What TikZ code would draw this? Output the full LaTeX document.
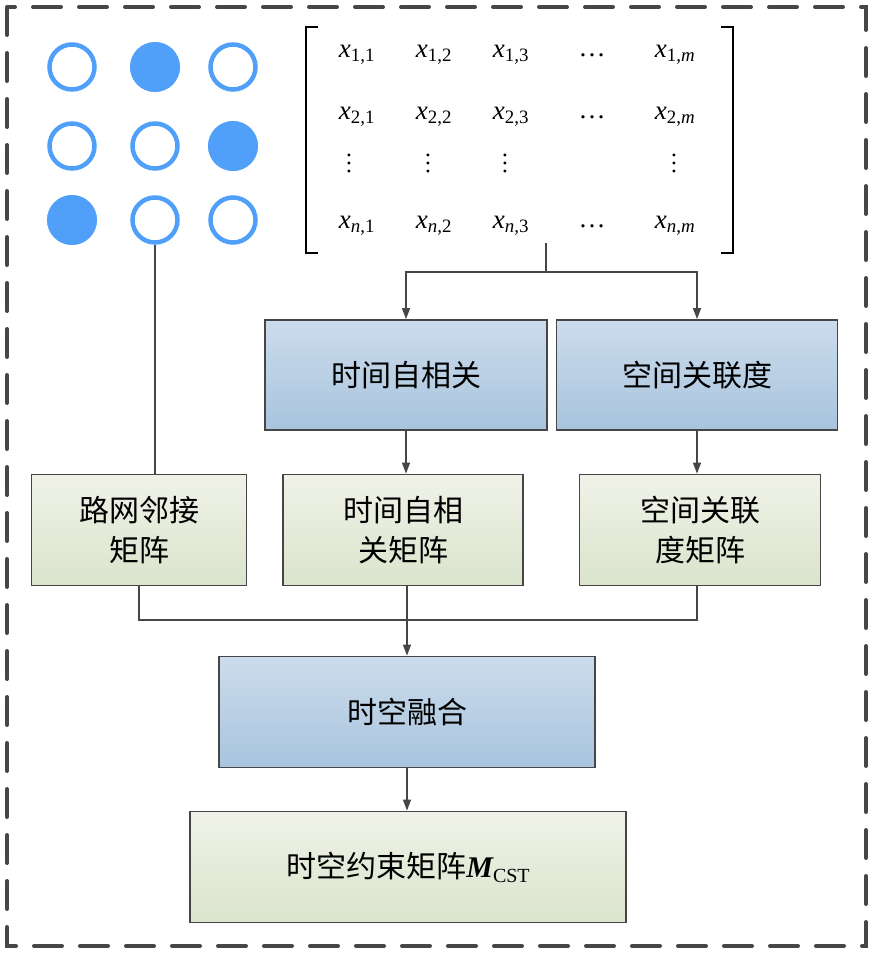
\documentclass[tikz,border=0pt]{standalone}
\usepackage{fontspec}
\setmainfont{Liberation Serif}
\newfontfamily\cjk{Noto Sans CJK SC}
\usetikzlibrary{arrows.meta}
\definecolor{dotblue}{RGB}{80,160,250}
\definecolor{boxline}{RGB}{70,70,70}
\definecolor{bluetop}{RGB}{204,220,236}
\definecolor{bluebot}{RGB}{168,196,222}
\definecolor{greentop}{RGB}{240,242,232}
\definecolor{greenbot}{RGB}{218,228,204}
\tikzset{
  arr/.style={-{Triangle[length=11pt,width=8pt]}},
  conn/.style={draw=boxline, line width=1.3pt},
  bluebox/.style={draw=boxline, line width=1.8pt, top color=bluetop, bottom color=bluebot,
    font=\cjk\fontsize{30}{40}\selectfont, align=center, inner sep=0pt},
  greenbox/.style={draw=boxline, line width=1.8pt, top color=greentop, bottom color=greenbot,
    font=\cjk\fontsize{30}{40}\selectfont, align=center, inner sep=0pt},
  ring/.style={circle, draw=dotblue, line width=4.5pt, minimum size=45pt, inner sep=0pt},
  fdot/.style={circle, fill=dotblue, minimum size=50pt, inner sep=0pt},
  entry/.style={font=\fontsize{27}{27}\selectfont, inner sep=0pt}
}
\newcommand{\xe}[2]{\textit{x}\textsubscript{#1,#2}}
\newcommand{\vdotsx}{\rotatebox{90}{\fontsize{24}{24}\selectfont\dots}}
\begin{document}
\begin{tikzpicture}[x=1pt,y=-1pt]
    \useasboundingbox (0,0) rectangle (874,956);
    \draw [boxline, line width=4pt, line cap=round, dash pattern=on 28pt off 18pt] (7,7) rectangle (866,946);

    % road network dots
    \foreach \r/\y in {1/67,2/146,3/220}
        \foreach \c/\x in {1/72,2/155,3/233}
            \node [ring] (d-\r-\c) at (\x,\y) {};
    \node [fdot] at (d-1-2) {};
    \node [fdot] at (d-2-3) {};
    \node [fdot] at (d-3-1) {};

    % data matrix
    \foreach \r/\y/\i in {1/55/1,2/117/2,4/226/\textit{n}}
    {
        \node [entry] (m-\r-1) at (357,\y) {\xe{\i}{1}};
        \node [entry] (m-\r-2) at (434,\y) {\xe{\i}{2}};
        \node [entry] (m-\r-3) at (511,\y) {\xe{\i}{3}};
        \node [entry] (m-\r-4) at (592,\y) {\dots};
        \node [entry] (m-\r-5) at (675,\y) {\xe{\i}{\textit{m}}};
    }
    \foreach \c/\x in {1/349,2/428,3/505,5/674}
        \node [entry] (m-3-\c) at (\x,163) {\vdotsx};
    \draw [line width=2pt] (318,27) -- (306,27) -- (306,253) -- (318,253);
    \draw [line width=2pt] (721,27) -- (733,27) -- (733,253) -- (721,253);

    % boxes
    \node [bluebox, minimum width=282pt, minimum height=110pt] (tac) at (406,375) {时间自相关};
    \node [bluebox, minimum width=281pt, minimum height=110pt] (sad) at (697,375) {空间关联度};
    \node [greenbox, minimum width=215pt, minimum height=111pt] (adj) at (139,530) {路网邻接\\矩阵};
    \node [greenbox, minimum width=240pt, minimum height=111pt] (tacm) at (403,530) {时间自相\\关矩阵};
    \node [greenbox, minimum width=241pt, minimum height=111pt] (sadm) at (700,530) {空间关联\\度矩阵};
    \node [bluebox, minimum width=376pt, minimum height=111pt] (fuse) at (407,712) {时空融合};
    \node [greenbox, minimum width=436pt, minimum height=111pt] (cst) at (408,867)
        {时空约束矩阵{\rmfamily\bfseries\itshape M}{\rmfamily\fontsize{20}{20}\selectfont\raisebox{-5pt}{CST}}};

    % connectors
    \coordinate (mbot) at (546,243);
    \coordinate (split) at (546,272);
    \coordinate (join) at (407,620);
    \draw [conn, arr] (mbot) |- (tac.north |- split) -- (tac.north);
    \draw [conn, arr] (split) -| (sad.north);
    \draw [conn, arr] (tac.south) -- (tac.south |- tacm.north);
    \draw [conn, arr] (sad.south) -- (sad.south |- sadm.north);
    \draw [conn] (d-3-2) ++(0,25) -- (d-3-2 |- adj.north);
    \draw [conn] (adj.south) |- (join);
    \draw [conn] (sadm.south -| sad.south) |- (join);
    \draw [conn, arr] (tacm.south -| fuse.north) -- (fuse.north);
    \draw [conn, arr] (fuse.south) -- (fuse.south |- cst.north);
\end{tikzpicture}
\end{document}
